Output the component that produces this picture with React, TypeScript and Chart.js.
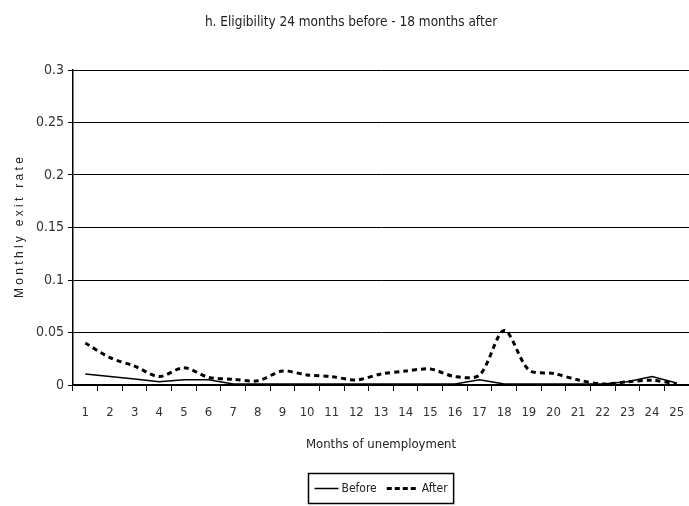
import React, { useEffect, useRef } from 'react';
import { Chart, registerables } from 'chart.js';

Chart.register(...registerables);

const FONT = "'Liberation Sans Narrow', 'Arial Narrow', 'DejaVu Sans Condensed', sans-serif";
const WIDE_FONT = "'Liberation Sans', Arial, sans-serif";

const chartTitle = 'h. Eligibility 24 months before - 18 months after';
const xTitle = 'Months of unemployment';
const yTitle = 'Monthly exit rate';
const seriesNames = ['Before', 'After'];

const months = ['1', '2', '3', '4', '5', '6', '7', '8', '9', '10', '11', '12', '13', '14', '15', '16', '17', '18', '19', '20', '21', '22', '23', '24', '25'];
const beforeRate = [0.0105, 0.008, 0.0057, 0.003, 0.005, 0.005, 0.001, 0.001, 0.001, 0.001, 0.001, 0.001, 0.001, 0.001, 0.001, 0.001, 0.005, 0.001, 0.001, 0.001, 0.001, 0.001, 0.003, 0.008, 0.002];
const afterRate = [0.04, 0.026, 0.018, 0.008, 0.0165, 0.0073, 0.0054, 0.004, 0.0133, 0.0095, 0.008, 0.0048, 0.0105, 0.0133, 0.0152, 0.008, 0.0095, 0.052, 0.0143, 0.011, 0.0048, 0.001, 0.003, 0.0045, 0.001];
const yTickValues = [0, 0.05, 0.1, 0.15, 0.2, 0.25, 0.3];
const yTickLabels = ['0', '0.05', '0.1', '0.15', '0.2', '0.25', '0.3'];

const textPlugin = {
  id: 'textDecor',
  afterDraw(chart: any) {
    const ctx = chart.ctx as CanvasRenderingContext2D;
    const area = chart.chartArea;
    ctx.save();
    // chart title
    ctx.fillStyle = '#222';
    ctx.font = `13.5px ${FONT}`;
    ctx.textAlign = 'center';
    ctx.textBaseline = 'middle';
    ctx.fillText(chartTitle, 351, 22);

    // y-axis title (letter-spaced, rotated)
    ctx.save();
    ctx.translate(20, (area.top + area.bottom) / 2);
    ctx.rotate(-Math.PI / 2);
    ctx.font = `12px ${WIDE_FONT}`;
    (ctx as any).letterSpacing = '3.3px';
    ctx.textAlign = 'center';
    ctx.textBaseline = 'middle';
    ctx.fillText(yTitle, 1.6, 0);
    ctx.restore();

    // legend with border
    ctx.font = `12px ${FONT}`;
    const w1 = ctx.measureText(seriesNames[0]).width;
    const w2 = ctx.measureText(seriesNames[1]).width;
    const lineLen = 24, dashLen = 32, padX = 6, gap = 3, gapItems = 10;
    const total = padX + lineLen + gap + w1 + gapItems + dashLen + gap + w2 + padX;
    const cx = (area.left + area.right) / 2;
    const left = Math.round(cx - total / 2) + 0.5;
    const h = 30;
    const top = chart.height - 33 + 0.5;
    const cy = top + h / 2;
    ctx.strokeStyle = '#000';
    ctx.lineWidth = 1.5;
    ctx.setLineDash([]);
    ctx.strokeRect(left, top, total, h);
    let x = left + padX;
    ctx.beginPath();
    ctx.moveTo(x, cy);
    ctx.lineTo(x + lineLen, cy);
    ctx.stroke();
    x += lineLen + gap;
    ctx.fillStyle = '#222';
    ctx.textBaseline = 'middle';
    ctx.textAlign = 'left';
    ctx.fillText(seriesNames[0], x, cy);
    x += w1 + gapItems;
    ctx.lineWidth = 3;
    ctx.setLineDash([5, 3]);
    ctx.beginPath();
    ctx.moveTo(x, cy);
    ctx.lineTo(x + dashLen, cy);
    ctx.stroke();
    ctx.setLineDash([]);
    x += dashLen + gap;
    ctx.fillText(seriesNames[1], x, cy);
    ctx.restore();
  },
};

export default function App() {
  const ref = useRef<HTMLCanvasElement | null>(null);
  useEffect(() => {
    if (!ref.current) return;
    const chart = new Chart(ref.current, {
      type: 'line',
      data: {
        labels: months,
        datasets: [
          {
            label: seriesNames[0],
            data: beforeRate,
            borderColor: '#000',
            backgroundColor: '#000',
            borderWidth: 1.5,
            pointRadius: 0,
            tension: 0,
          },
          {
            label: seriesNames[1],
            data: afterRate,
            borderColor: '#000',
            backgroundColor: '#000',
            borderWidth: 3,
            borderDash: [5, 4],
            pointRadius: 0,
            tension: 0.3,
          },
        ],
      },
      options: {
        animation: false,
        responsive: false,
        maintainAspectRatio: false,
        layout: { padding: { left: 0, right: 0, top: 70, bottom: 0 } },
        plugins: {
          legend: { display: false },
          tooltip: { enabled: false },
          title: { display: false },
        },
        scales: {
          x: {
            type: 'category',
            offset: true,
            grid: { offset: true, drawOnChartArea: false, drawTicks: true, tickLength: 6, color: '#000', lineWidth: 1 },
            border: { color: '#000', width: 1.5 },
            ticks: { color: '#333', font: { family: FONT, size: 13 }, padding: 14, maxRotation: 0, autoSkip: false },
            title: {
              display: true,
              text: xTitle,
              color: '#222',
              font: { family: FONT, size: 13 },
              padding: { top: 0, bottom: 54 },
            },
            afterFit: (scale: any) => {
              scale.height = 121;
              scale.paddingLeft = 0;
              scale.paddingRight = 0;
            },
          },
          y: {
            min: 0,
            max: 0.3,
            afterBuildTicks: (scale: any) => { scale.ticks = yTickValues.map((v) => ({ value: v })); },
            grid: { color: '#000', lineWidth: 1, tickLength: 5, drawTicks: true },
            border: { color: '#000', width: 1.5 },
            ticks: {
              color: '#333',
              font: { family: FONT, size: 14 },
              padding: 4,
              callback: (_v: any, i: number) => yTickLabels[i],
            },
            title: { display: false },
            afterFit: (scale: any) => {
              scale.width = 73;
              scale.paddingTop = 0;
              scale.paddingBottom = 0;
            },
          },
        },
      },
      plugins: [textPlugin],
    } as any);
    return () => chart.destroy();
  }, []);
  return (
    <div style={{ position: 'absolute', left: 0, top: 0, width: 689, height: 506, background: '#fff' }}>
      <canvas ref={ref} width={689} height={506} style={{ display: 'block' }} />
    </div>
  );
}
